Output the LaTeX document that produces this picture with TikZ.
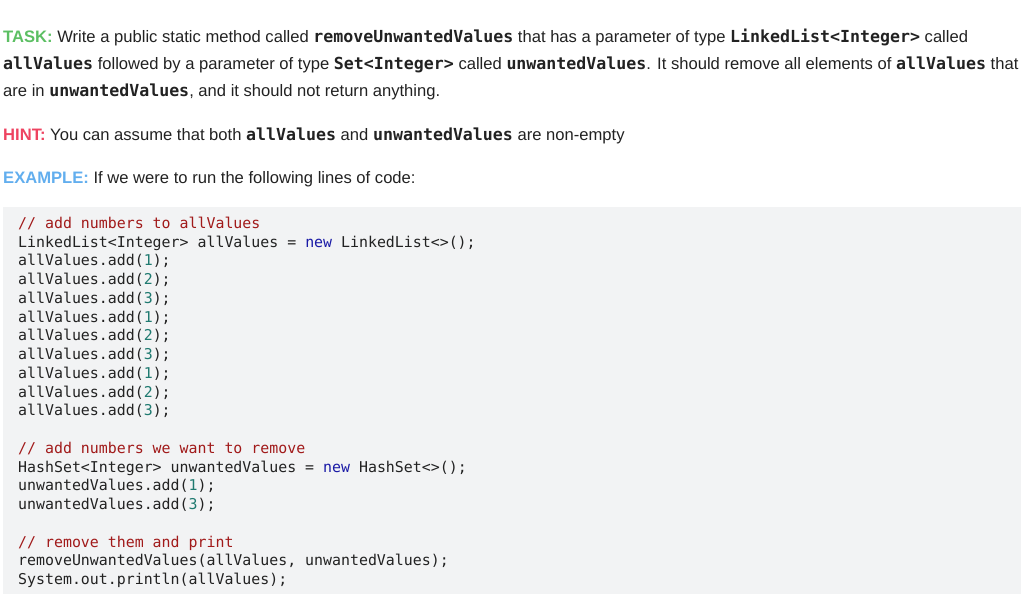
\documentclass[tikz,border=0pt]{standalone}
\usepackage{fontspec}
\setmainfont{Liberation Sans}
\newfontfamily\cm{DejaVu Sans Mono}
\definecolor{taskc}{HTML}{5CBF63}
\definecolor{hintc}{HTML}{EE4360}
\definecolor{exc}{HTML}{62AEEE}
\definecolor{cmt}{HTML}{A11A1A}
\definecolor{kw}{HTML}{1A1AA6}
\definecolor{num}{HTML}{1F7A70}
\definecolor{bg}{HTML}{F2F3F4}
\definecolor{tx}{HTML}{222222}
\newcommand{\ic}[1]{{\cm\bfseries #1}}
\newcommand{\cmtc}[1]{\textcolor{cmt}{#1}}
\newcommand{\nm}[1]{\textcolor{num}{#1}}
\begin{document}
\begin{tikzpicture}[x=1pt,y=-1pt,
 prose/.style={anchor=base west,inner sep=0pt,text=tx,font=\fontsize{16.6}{18}\selectfont},
 code/.style={anchor=base west,inner sep=0pt,text=tx,font=\cm\fontsize{14.9}{17}\selectfont}]
\useasboundingbox (0,0) rectangle (1024,594);
\fill[bg] (3,207) rectangle (1021,594);
\node[prose] (l1) at (3,43) {\textcolor{taskc}{\bfseries TASK:} Write a public static method called \ic{removeUnwantedValues} that has a parameter of type \ic{LinkedList<Integer>} called};
\node[prose] (l2) at (3,69) {\ic{allValues} followed by a parameter of type \ic{Set<Integer>} called \ic{unwantedValues}. It should remove all elements of \ic{allValues} that};
\node[prose] (l3) at (3,96) {are in \ic{unwantedValues}, and it should not return anything.};
\node[prose] (h) at (3,140) {\textcolor{hintc}{\bfseries HINT:} You can assume that both \ic{allValues} and \ic{unwantedValues} are non-empty};
\node[prose] (e) at (3,183) {\textcolor{exc}{\bfseries EXAMPLE:} If we were to run the following lines of code:};
\foreach \i/\t in {0/{\cmtc{// add numbers to allValues}},
 1/{LinkedList<Integer> allValues = \textcolor{kw}{new} LinkedList<>();},
 2/{allValues.add(\nm{1});},3/{allValues.add(\nm{2});},4/{allValues.add(\nm{3});},
 5/{allValues.add(\nm{1});},6/{allValues.add(\nm{2});},7/{allValues.add(\nm{3});},
 8/{allValues.add(\nm{1});},9/{allValues.add(\nm{2});},10/{allValues.add(\nm{3});},
 12/{\cmtc{// add numbers we want to remove}},
 13/{HashSet<Integer> unwantedValues = \textcolor{kw}{new} HashSet<>();},
 14/{unwantedValues.add(\nm{1});},15/{unwantedValues.add(\nm{3});},
 17/{\cmtc{// remove them and print}},
 18/{removeUnwantedValues(allValues, unwantedValues);},
 19/{System.out.println(allValues);}}
 \node[code] (c\i) at (18,{228.5+18.74*\i}) {\t};
\end{tikzpicture}
\end{document}
